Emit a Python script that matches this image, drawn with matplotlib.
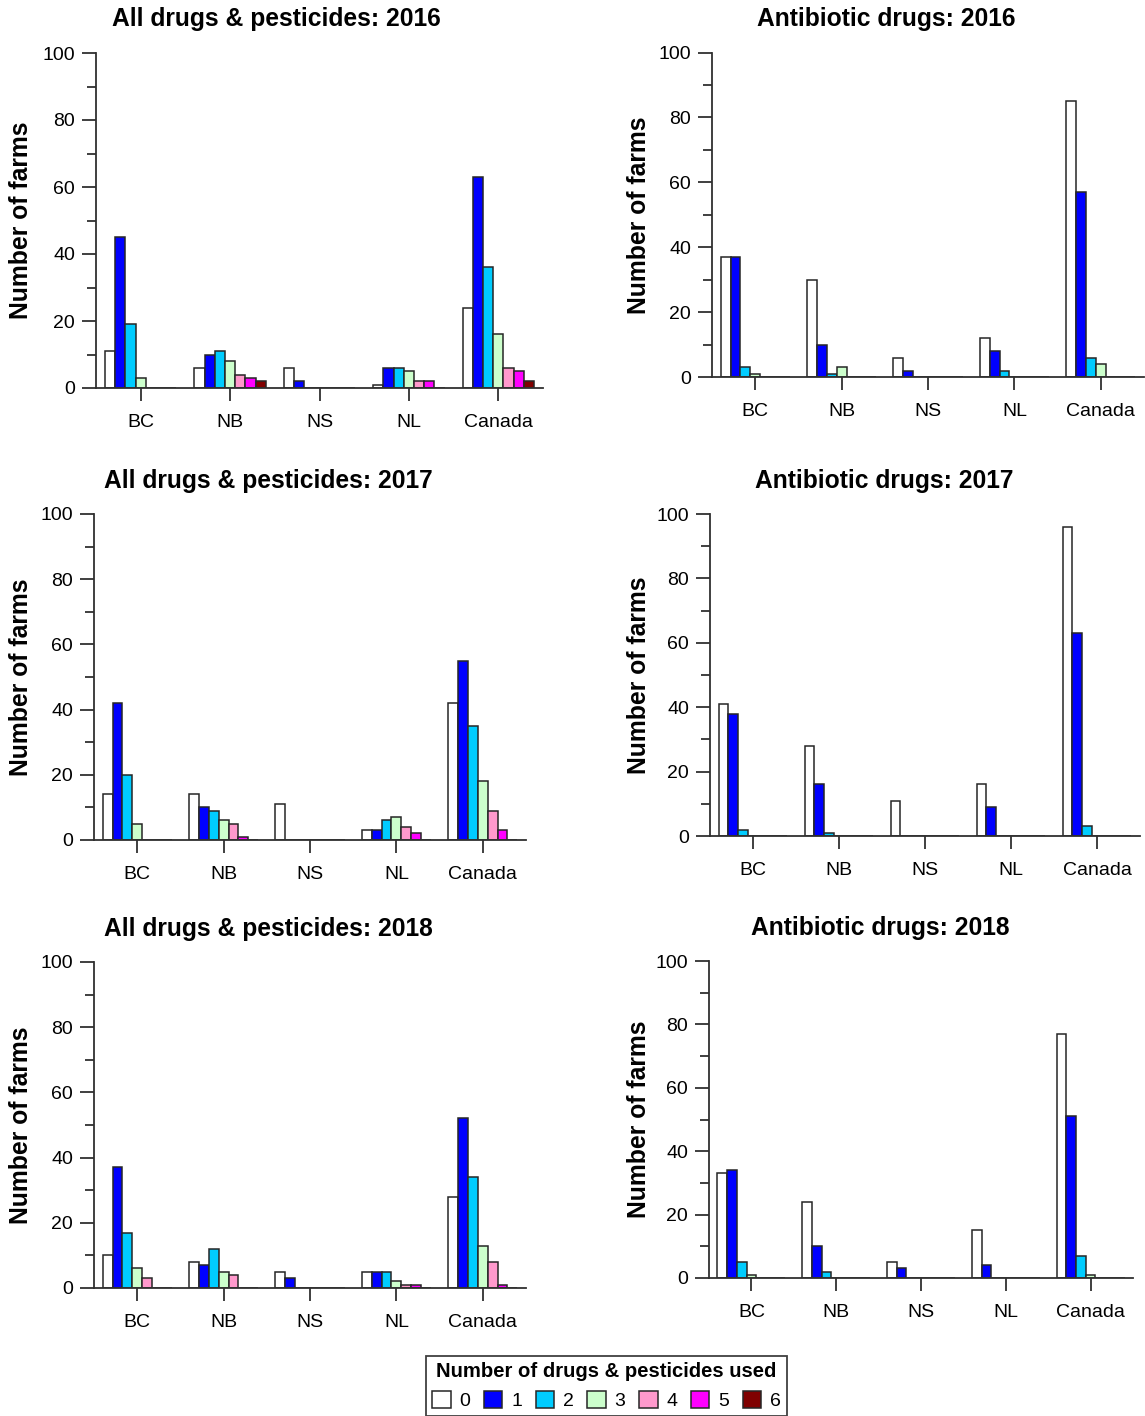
import matplotlib
matplotlib.use("Agg")
import matplotlib.pyplot as plt
from matplotlib.patches import Patch
from matplotlib.ticker import MultipleLocator
import numpy as np

plt.rcParams['font.family'] = ['Liberation Sans', 'DejaVu Sans']

# regions on the x axis
regions = ['BC', 'NB', 'NS', 'NL', 'Canada']
# number of drugs & pesticides used (legend levels)
levels = ['0', '1', '2', '3', '4', '5', '6']
level_colors = ['#FFFFFF', '#0000FF', '#00CCFF', '#CCFFCC', '#FF99CC', '#FF00FF', '#800000']

# each row: one region, counts of farms for levels 0..6
all_2016 = [[11, 45, 19, 3, 0, 0, 0],
            [6, 10, 11, 8, 4, 3, 2],
            [6, 2, 0, 0, 0, 0, 0],
            [1, 6, 6, 5, 2, 2, 0],
            [24, 63, 36, 16, 6, 5, 2]]
abx_2016 = [[37, 37, 3, 1, 0, 0, 0],
            [30, 10, 1, 3, 0, 0, 0],
            [6, 2, 0, 0, 0, 0, 0],
            [12, 8, 2, 0, 0, 0, 0],
            [85, 57, 6, 4, 0, 0, 0]]
all_2017 = [[14, 42, 20, 5, 0, 0, 0],
            [14, 10, 9, 6, 5, 1, 0],
            [11, 0, 0, 0, 0, 0, 0],
            [3, 3, 6, 7, 4, 2, 0],
            [42, 55, 35, 18, 9, 3, 0]]
abx_2017 = [[41, 38, 2, 0, 0, 0, 0],
            [28, 16, 1, 0, 0, 0, 0],
            [11, 0, 0, 0, 0, 0, 0],
            [16, 9, 0, 0, 0, 0, 0],
            [96, 63, 3, 0, 0, 0, 0]]
all_2018 = [[10, 37, 17, 6, 3, 0, 0],
            [8, 7, 12, 5, 4, 0, 0],
            [5, 3, 0, 0, 0, 0, 0],
            [5, 5, 5, 2, 1, 1, 0],
            [28, 52, 34, 13, 8, 1, 0]]
abx_2018 = [[33, 34, 5, 1, 0, 0, 0],
            [24, 10, 2, 0, 0, 0, 0],
            [5, 3, 0, 0, 0, 0, 0],
            [15, 4, 0, 0, 0, 0, 0],
            [77, 51, 7, 1, 0, 0, 0]]

W, H = 1145, 1416
fig = plt.figure(figsize=(W / 100, H / 100), dpi=100)

# panel boxes in pixels: left, right, top, bottom, title centre, y-label right edge
panels = [
    (all_2016, 'All drugs & pesticides: 2016', (96, 543, 53, 388), (276, 19), 33),
    (abx_2016, 'Antibiotic drugs: 2016', (712, 1144, 52.5, 377), (886, 19), 651),
    (all_2017, 'All drugs & pesticides: 2017', (94, 526, 514, 840), (268, 481), 33),
    (abx_2017, 'Antibiotic drugs: 2017', (710, 1140, 514, 836), (884, 481), 651),
    (all_2018, 'All drugs & pesticides: 2018', (94, 526, 962, 1288), (268, 929), 33),
    (abx_2018, 'Antibiotic drugs: 2018', (709, 1133, 961, 1278), (880, 928), 651),
]

edge = '#262626'
bw = 0.8 / 7
x = np.arange(len(regions))

for data, title, (l, r, t, b), (tx, ty), lab_x in panels:
    ax = fig.add_axes([l / W, 1 - b / H, (r - l) / W, (b - t) / H])
    vals = np.array(data)
    for i in range(len(levels)):
        ax.bar(x + (i - 3) * bw, vals[:, i], width=bw, color=level_colors[i],
               edgecolor=edge, linewidth=1.1, zorder=2)
    ax.set_xlim(-0.5, 4.5)
    ax.set_ylim(0, 100)
    ax.yaxis.set_major_locator(MultipleLocator(20))
    ax.yaxis.set_minor_locator(MultipleLocator(10))
    ax.set_xticks(x)
    ax.set_xticklabels(regions)
    for s in ['top', 'right']:
        ax.spines[s].set_visible(False)
    for s in ['left', 'bottom']:
        ax.spines[s].set_color('#303030')
        ax.spines[s].set_linewidth(1.3)
    ax.tick_params(axis='x', length=9.5, width=1.3, color='#303030', pad=9.5, labelsize=14)
    ax.tick_params(axis='y', which='major', length=10, width=1.3, color='#303030', pad=5, labelsize=14)
    ax.tick_params(axis='y', which='minor', length=6.3, width=1.3, color='#303030')
    ax.set_ylabel('Number of farms', fontsize=17.8, fontweight='bold')
    ax.yaxis.set_label_coords((lab_x - l) / (r - l), 0.5)
    fig.text(tx / W, 1 - ty / H, title, ha='center', va='center',
             fontsize=17.7, fontweight='bold')

handles = [Patch(facecolor=c, edgecolor=edge, linewidth=1.1) for c in level_colors]
leg = fig.legend(handles, levels, loc='upper center', bbox_to_anchor=(606.5 / W, 1 - 1356 / H),
                 ncol=7, fontsize=14, title='Number of drugs & pesticides used',
                 title_fontproperties={'weight': 'bold', 'size': 14.6},
                 handlelength=0.95, handleheight=1.0, handletextpad=0.45,
                 columnspacing=0.7, borderaxespad=0, fancybox=False,
                 edgecolor='#404040', framealpha=1, borderpad=0.3)
leg.get_frame().set_linewidth(1.3)

fig.savefig('out.png', dpi=100)
